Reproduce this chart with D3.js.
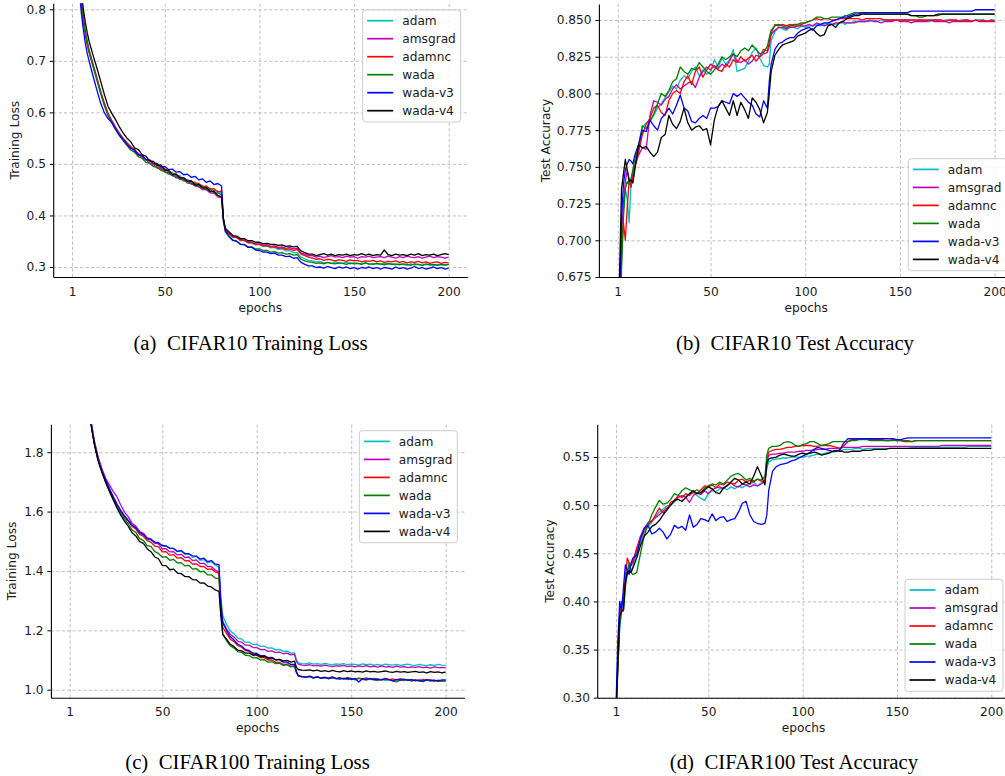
<!DOCTYPE html>
<html><head><meta charset="utf-8">
<script src="https://cdn.jsdelivr.net/npm/d3@7"></script>
<style>body{margin:0;background:#fff;overflow:hidden}</style>
</head><body>
<svg id="chart" width="1005" height="776"></svg>
<script>
// x grid (epochs) shared by every series
const EPOCHS = [].concat(d3.range(1,11), d3.range(12,81,2), [81,82], d3.range(84,121,2), [121,122], d3.range(124,201,2));
const SERIES_NAMES = ["adam","amsgrad","adamnc","wada","wada-v3","wada-v4"];
const SERIES_COLORS = ["#00bfbf","#bf00bf","#ff0000","#008000","#0000ff","#000000"];
const X_TICKS = [1,50,100,150,200];
const A_YTICKS = [0.3,0.4,0.5,0.6,0.7,0.8];
const B_YTICKS = [0.675,0.700,0.725,0.750,0.775,0.800,0.825,0.850];
const C_YTICKS = [1.0,1.2,1.4,1.6,1.8];
const D_YTICKS = [0.30,0.35,0.40,0.45,0.50,0.55];
const CAPTIONS = ["(a)\u00a0\u00a0CIFAR10 Training Loss","(b)\u00a0\u00a0CIFAR10 Test Accuracy","(c)\u00a0\u00a0CIFAR100 Training Loss","(d)\u00a0\u00a0CIFAR100 Test Accuracy"];

// (a) CIFAR10 training loss
const A_ADAM = [1.62,1.19,1.01,0.915,0.855,0.812,0.781,0.757,0.737,0.720,
0.694,0.668,0.640,0.617,0.597,0.583,0.571,0.560,0.550,0.541,
0.533,0.529,0.519,0.517,0.509,0.506,0.499,0.498,0.492,0.490,
0.484,0.484,0.476,0.477,0.470,0.470,0.464,0.465,0.459,0.458,
0.453,0.453,0.448,0.447,0.443,
0.392,0.372,
0.364,0.357,0.357,0.351,0.351,0.347,0.346,0.343,0.344,0.340,
0.341,0.337,0.338,0.334,0.335,0.331,0.332,0.328,0.328,
0.323,0.319,
0.316,0.313,0.312,0.310,0.311,0.308,0.309,0.307,0.310,0.308,
0.307,0.309,0.306,0.308,0.307,0.306,0.308,0.305,0.307,0.306,
0.305,0.307,0.305,0.306,0.304,0.306,0.305,0.303,0.306,0.304,
0.305,0.303,0.305,0.304,0.303,0.305,0.304,0.303,0.305];
const A_AMSGRAD = [1.63,1.20,1.02,0.920,0.860,0.815,0.783,0.758,0.738,0.721,
0.695,0.669,0.642,0.619,0.598,0.584,0.571,0.559,0.549,0.540,
0.534,0.524,0.521,0.512,0.509,0.501,0.499,0.492,0.491,0.484,
0.483,0.477,0.476,0.470,0.469,0.463,0.462,0.457,0.456,0.450,
0.450,0.444,0.443,0.436,0.434,
0.392,0.373,
0.366,0.359,0.358,0.353,0.352,0.349,0.348,0.345,0.345,0.342,
0.343,0.340,0.341,0.338,0.339,0.336,0.338,0.335,0.336,
0.331,0.327,
0.325,0.322,0.322,0.319,0.321,0.318,0.320,0.322,0.319,0.320,
0.318,0.321,0.319,0.320,0.317,0.320,0.319,0.321,0.318,0.319,
0.320,0.318,0.321,0.319,0.317,0.320,0.318,0.321,0.319,0.318,
0.320,0.317,0.319,0.321,0.318,0.320,0.319,0.317,0.319];
const A_ADAMNC = [1.61,1.19,1.01,0.913,0.852,0.810,0.779,0.755,0.735,0.718,
0.692,0.667,0.641,0.616,0.596,0.583,0.570,0.558,0.549,0.541,
0.532,0.528,0.519,0.516,0.508,0.506,0.499,0.498,0.490,0.490,
0.486,0.480,0.480,0.473,0.473,0.467,0.467,0.462,0.462,0.456,
0.457,0.451,0.452,0.446,0.447,
0.393,0.373,
0.365,0.358,0.357,0.352,0.352,0.347,0.348,0.344,0.344,0.341,
0.341,0.339,0.339,0.336,0.337,0.334,0.335,0.332,0.334,
0.329,0.325,
0.322,0.319,0.317,0.315,0.316,0.313,0.315,0.314,0.312,0.314,
0.313,0.311,0.314,0.312,0.313,0.310,0.312,0.311,0.313,0.310,
0.312,0.309,0.311,0.310,0.312,0.309,0.311,0.308,0.310,0.309,
0.311,0.308,0.310,0.307,0.309,0.310,0.307,0.309,0.308];
const A_WADA = [1.60,1.18,1.00,0.908,0.848,0.806,0.776,0.752,0.732,0.716,
0.690,0.664,0.638,0.614,0.594,0.580,0.567,0.555,0.545,0.536,
0.527,0.523,0.514,0.511,0.503,0.501,0.495,0.494,0.487,0.486,
0.480,0.479,0.473,0.473,0.467,0.467,0.461,0.461,0.455,0.456,
0.450,0.450,0.444,0.444,0.440,
0.388,0.368,
0.358,0.351,0.350,0.344,0.344,0.339,0.339,0.335,0.335,0.332,
0.332,0.329,0.330,0.327,0.328,0.325,0.326,0.323,0.324,
0.319,0.315,
0.312,0.310,0.309,0.307,0.308,0.306,0.309,0.307,0.306,0.308,
0.307,0.305,0.308,0.306,0.307,0.305,0.308,0.306,0.305,0.307,
0.306,0.304,0.307,0.305,0.306,0.304,0.306,0.305,0.303,0.306,
0.305,0.303,0.306,0.304,0.305,0.303,0.305,0.304,0.305];
const A_WADAV3 = [1.58,1.15,0.980,0.890,0.830,0.790,0.760,0.735,0.715,0.700,
0.672,0.645,0.619,0.600,0.588,0.580,0.567,0.556,0.547,0.538,
0.530,0.527,0.517,0.516,0.508,0.508,0.501,0.501,0.494,0.495,
0.489,0.490,0.484,0.485,0.479,0.480,0.474,0.476,0.469,0.471,
0.464,0.467,0.460,0.462,0.457,
0.394,0.370,
0.360,0.352,0.350,0.344,0.343,0.338,0.338,0.333,0.332,0.329,
0.329,0.326,0.327,0.323,0.323,0.320,0.321,0.317,0.318,
0.313,0.309,
0.305,0.302,0.302,0.299,0.300,0.298,0.301,0.299,0.297,0.300,
0.298,0.300,0.297,0.299,0.296,0.299,0.298,0.300,0.297,0.299,
0.296,0.299,0.298,0.296,0.300,0.297,0.299,0.296,0.298,0.301,
0.297,0.299,0.296,0.298,0.300,0.297,0.299,0.296,0.298];
const A_WADAV4 = [1.66,1.23,1.04,0.940,0.875,0.830,0.800,0.775,0.755,0.738,
0.712,0.688,0.662,0.636,0.612,0.598,0.586,0.572,0.560,0.550,
0.543,0.531,0.528,0.518,0.515,0.506,0.505,0.497,0.498,0.488,
0.488,0.479,0.480,0.473,0.473,0.466,0.467,0.459,0.460,0.453,
0.454,0.446,0.447,0.439,0.436,
0.392,0.375,
0.368,0.361,0.360,0.355,0.355,0.351,0.351,0.348,0.348,0.345,
0.346,0.344,0.344,0.342,0.343,0.340,0.341,0.339,0.340,
0.335,0.331,
0.328,0.325,0.325,0.322,0.324,0.326,0.323,0.325,0.322,0.324,
0.323,0.325,0.322,0.324,0.323,0.326,0.323,0.325,0.322,0.324,
0.323,0.333,0.324,0.322,0.325,0.323,0.324,0.322,0.325,0.323,
0.326,0.322,0.324,0.323,0.325,0.322,0.324,0.326,0.324];

// (b) CIFAR10 test accuracy
const B_ADAM = [0.560,0.640,0.690,0.722,0.735,0.728,0.712,0.738,0.748,0.752,
0.760,0.777,0.780,0.781,0.785,0.790,0.793,0.797,0.801,0.805,
0.803,0.809,0.812,0.810,0.815,0.818,0.812,0.816,0.813,0.815,
0.823,0.818,0.824,0.820,0.823,0.830,0.815,0.816,0.817,0.822,
0.828,0.831,0.824,0.819,0.818,
0.820,0.836,
0.842,0.845,0.844,0.843,0.846,0.845,0.844,0.846,0.845,0.846,
0.846,0.847,0.846,0.847,0.848,0.847,0.847,0.848,0.848,
0.847,0.848,
0.848,0.849,0.849,0.849,0.849,0.849,0.850,0.849,0.850,0.850,
0.850,0.850,0.850,0.850,0.850,0.850,0.850,0.849,0.850,0.850,
0.849,0.849,0.850,0.850,0.849,0.850,0.850,0.850,0.849,0.850,
0.850,0.850,0.849,0.850,0.850,0.850,0.849,0.850,0.850];
const B_AMSGRAD = [0.570,0.650,0.700,0.725,0.740,0.748,0.742,0.736,0.745,0.750,
0.758,0.763,0.762,0.785,0.795,0.794,0.792,0.796,0.798,0.803,
0.806,0.803,0.805,0.807,0.808,0.804,0.811,0.815,0.818,0.816,
0.819,0.817,0.820,0.818,0.822,0.827,0.822,0.821,0.823,0.820,
0.822,0.826,0.825,0.827,0.828,
0.832,0.840,
0.843,0.845,0.845,0.844,0.845,0.845,0.846,0.846,0.846,0.847,
0.846,0.848,0.847,0.846,0.847,0.847,0.848,0.848,0.849,
0.848,0.848,
0.848,0.848,0.849,0.849,0.849,0.850,0.849,0.849,0.848,0.849,
0.849,0.849,0.850,0.849,0.849,0.849,0.848,0.849,0.849,0.849,
0.849,0.850,0.849,0.849,0.849,0.849,0.848,0.849,0.849,0.849,
0.849,0.849,0.849,0.850,0.849,0.849,0.849,0.849,0.849];
const B_ADAMNC = [0.565,0.645,0.690,0.712,0.700,0.722,0.740,0.737,0.742,0.750,
0.760,0.772,0.779,0.783,0.790,0.792,0.787,0.785,0.795,0.800,
0.802,0.800,0.808,0.812,0.806,0.815,0.818,0.811,0.816,0.820,
0.818,0.816,0.815,0.820,0.818,0.823,0.821,0.825,0.822,0.824,
0.826,0.822,0.825,0.830,0.829,
0.835,0.841,
0.847,0.846,0.847,0.846,0.847,0.846,0.846,0.847,0.848,0.849,
0.850,0.851,0.850,0.851,0.851,0.850,0.850,0.851,0.851,
0.851,0.851,
0.851,0.851,0.851,0.850,0.851,0.851,0.851,0.851,0.851,0.850,
0.850,0.850,0.850,0.850,0.850,0.850,0.850,0.850,0.850,0.850,
0.850,0.850,0.850,0.850,0.850,0.849,0.850,0.850,0.850,0.849,
0.850,0.850,0.849,0.850,0.849,0.850,0.849,0.850,0.849];
const B_WADA = [0.555,0.630,0.680,0.715,0.735,0.740,0.738,0.742,0.748,0.755,
0.765,0.778,0.776,0.781,0.786,0.793,0.800,0.798,0.802,0.808,
0.810,0.818,0.815,0.813,0.817,0.816,0.821,0.818,0.815,0.813,
0.816,0.820,0.825,0.823,0.825,0.827,0.825,0.829,0.831,0.829,
0.833,0.830,0.827,0.828,0.832,
0.838,0.843,
0.846,0.847,0.846,0.845,0.846,0.847,0.847,0.848,0.848,0.849,
0.850,0.852,0.852,0.851,0.851,0.852,0.852,0.852,0.852,
0.853,0.853,
0.854,0.855,0.855,0.855,0.854,0.854,0.854,0.854,0.854,0.854,
0.854,0.854,0.854,0.854,0.854,0.854,0.853,0.853,0.852,0.852,
0.853,0.853,0.853,0.853,0.854,0.854,0.854,0.854,0.854,0.854,
0.854,0.854,0.854,0.854,0.854,0.854,0.854,0.854,0.854];
const B_WADAV3 = [0.560,0.660,0.715,0.738,0.748,0.752,0.755,0.754,0.752,0.758,
0.765,0.775,0.774,0.782,0.778,0.775,0.783,0.786,0.790,0.786,
0.792,0.799,0.790,0.788,0.781,0.780,0.783,0.785,0.783,0.790,
0.790,0.791,0.795,0.794,0.793,0.800,0.798,0.800,0.797,0.794,
0.792,0.786,0.784,0.795,0.790,
0.808,0.820,
0.830,0.834,0.835,0.837,0.838,0.838,0.841,0.843,0.844,0.845,
0.843,0.846,0.847,0.848,0.848,0.849,0.850,0.851,0.852,
0.852,0.852,
0.853,0.854,0.854,0.855,0.855,0.855,0.855,0.855,0.855,0.855,
0.855,0.855,0.855,0.855,0.855,0.855,0.856,0.856,0.856,0.856,
0.856,0.856,0.856,0.856,0.856,0.856,0.856,0.856,0.856,0.856,
0.856,0.856,0.856,0.857,0.857,0.857,0.857,0.857,0.857];
const B_WADAV4 = [0.580,0.680,0.735,0.745,0.755,0.748,0.740,0.741,0.739,0.748,
0.765,0.763,0.764,0.760,0.757,0.760,0.770,0.772,0.785,0.779,
0.776,0.781,0.790,0.780,0.775,0.777,0.778,0.775,0.776,0.765,
0.782,0.791,0.795,0.790,0.785,0.795,0.785,0.794,0.789,0.783,
0.797,0.794,0.789,0.780,0.787,
0.800,0.815,
0.826,0.830,0.833,0.834,0.835,0.836,0.839,0.840,0.841,0.843,
0.844,0.841,0.839,0.840,0.846,0.847,0.845,0.848,0.849,
0.850,0.851,
0.852,0.853,0.853,0.854,0.854,0.854,0.854,0.854,0.854,0.854,
0.854,0.854,0.854,0.854,0.854,0.854,0.853,0.853,0.853,0.853,
0.853,0.853,0.853,0.854,0.854,0.854,0.854,0.854,0.854,0.854,
0.854,0.854,0.854,0.854,0.854,0.854,0.854,0.854,0.854];

// (c) CIFAR100 training loss
const C_ADAM = [3.90,3.22,2.86,2.62,2.45,2.32,2.21,2.12,2.05,1.99,
1.915,1.838,1.782,1.741,1.708,1.676,1.652,1.626,1.604,1.586,
1.569,1.553,1.543,1.527,1.520,1.507,1.504,1.494,1.493,1.483,
1.485,1.475,1.477,1.465,1.467,1.455,1.458,1.446,1.449,1.436,
1.438,1.427,1.431,1.420,1.412,
1.310,1.250,
1.220,1.198,1.188,1.174,1.170,1.160,1.160,1.152,1.153,1.146,
1.147,1.140,1.141,1.134,1.136,1.129,1.130,1.123,1.124,
1.100,1.090,
1.088,1.087,1.090,1.086,1.088,1.085,1.089,1.086,1.084,1.087,
1.085,1.088,1.084,1.086,1.085,1.083,1.087,1.084,1.086,1.083,
1.085,1.082,1.086,1.084,1.083,1.085,1.082,1.084,1.086,1.083,
1.082,1.085,1.083,1.081,1.084,1.082,1.085,1.083,1.082];
const C_AMSGRAD = [3.92,3.23,2.87,2.62,2.45,2.32,2.21,2.12,2.05,1.99,
1.918,1.840,1.785,1.745,1.712,1.690,1.668,1.650,1.622,1.598,
1.582,1.560,1.551,1.533,1.527,1.511,1.508,1.494,1.491,1.474,
1.475,1.464,1.465,1.454,1.456,1.445,1.447,1.435,1.437,1.425,
1.426,1.415,1.415,1.403,1.396,
1.290,1.230,
1.205,1.186,1.177,1.163,1.160,1.150,1.150,1.142,1.142,1.135,
1.136,1.129,1.131,1.125,1.127,1.121,1.123,1.117,1.119,
1.095,1.086,
1.083,1.082,1.084,1.080,1.082,1.079,1.083,1.080,1.078,1.081,
1.079,1.082,1.078,1.080,1.077,1.080,1.078,1.081,1.077,1.079,
1.076,1.080,1.077,1.078,1.075,1.079,1.076,1.078,1.074,1.077,
1.075,1.078,1.074,1.076,1.073,1.077,1.074,1.075,1.074];
const C_ADAMNC = [3.90,3.21,2.85,2.61,2.44,2.31,2.20,2.11,2.04,1.98,
1.910,1.835,1.779,1.738,1.705,1.675,1.650,1.624,1.602,1.583,
1.568,1.550,1.541,1.523,1.517,1.502,1.497,1.484,1.481,1.464,
1.465,1.453,1.455,1.443,1.445,1.434,1.435,1.423,1.424,1.415,
1.415,1.405,1.407,1.397,1.393,
1.275,1.210,
1.190,1.170,1.162,1.148,1.143,1.132,1.129,1.119,1.116,1.108,
1.108,1.100,1.100,1.092,1.092,1.085,1.086,1.079,1.080,
1.060,1.048,
1.045,1.043,1.046,1.041,1.044,1.040,1.042,1.039,1.043,1.037,
1.040,1.036,1.041,1.038,1.035,1.039,1.036,1.040,1.034,1.038,
1.035,1.033,1.038,1.034,1.036,1.032,1.037,1.033,1.035,1.031,
1.034,1.029,1.035,1.031,1.033,1.028,1.032,1.030,1.029];
const C_WADA = [3.89,3.20,2.84,2.60,2.43,2.30,2.19,2.10,2.03,1.97,
1.905,1.830,1.775,1.735,1.702,1.672,1.645,1.618,1.595,1.576,
1.559,1.538,1.530,1.509,1.503,1.485,1.483,1.465,1.459,1.446,
1.448,1.436,1.439,1.427,1.428,1.417,1.419,1.406,1.408,1.397,
1.399,1.387,1.387,1.376,1.374,
1.255,1.190,
1.165,1.148,1.140,1.128,1.126,1.116,1.115,1.107,1.108,1.100,
1.101,1.093,1.094,1.088,1.089,1.082,1.084,1.077,1.079,
1.057,1.046,
1.043,1.041,1.044,1.039,1.042,1.038,1.041,1.036,1.040,1.037,
1.035,1.039,1.034,1.037,1.033,1.038,1.035,1.032,1.036,1.033,
1.031,1.035,1.032,1.034,1.030,1.026,1.033,1.031,1.034,1.029,
1.032,1.030,1.027,1.033,1.029,1.031,1.028,1.030,1.029];
const C_WADAV3 = [3.88,3.19,2.84,2.60,2.43,2.30,2.19,2.10,2.03,1.975,
1.905,1.830,1.775,1.738,1.706,1.678,1.650,1.625,1.603,1.585,
1.570,1.554,1.546,1.530,1.523,1.509,1.506,1.497,1.495,1.486,
1.484,1.477,1.475,1.466,1.469,1.459,1.458,1.451,1.450,1.440,
1.443,1.431,1.435,1.423,1.421,
1.290,1.225,
1.200,1.178,1.167,1.153,1.147,1.135,1.132,1.123,1.122,1.115,
1.115,1.108,1.109,1.101,1.101,1.093,1.093,1.085,1.085,
1.060,1.046,
1.044,1.042,1.045,1.040,1.043,1.039,1.041,1.038,1.042,1.037,
1.040,1.036,1.039,1.035,1.038,1.026,1.037,1.035,1.038,1.034,
1.036,1.033,1.037,1.034,1.030,1.035,1.032,1.036,1.031,1.034,
1.030,1.033,1.029,1.034,1.031,1.032,1.029,1.033,1.033];
const C_WADAV4 = [3.90,3.20,2.84,2.60,2.43,2.30,2.19,2.10,2.03,1.975,
1.905,1.828,1.772,1.732,1.698,1.668,1.640,1.612,1.588,1.568,
1.550,1.529,1.518,1.499,1.493,1.475,1.465,1.447,1.441,1.419,
1.418,1.404,1.406,1.393,1.391,1.381,1.381,1.371,1.370,1.359,
1.360,1.349,1.346,1.336,1.331,
1.250,1.185,
1.170,1.153,1.145,1.133,1.131,1.123,1.123,1.116,1.118,1.111,
1.112,1.105,1.107,1.100,1.102,1.097,1.099,1.093,1.096,
1.075,1.068,
1.066,1.065,1.067,1.063,1.066,1.062,1.064,1.061,1.065,1.062,
1.060,1.064,1.061,1.063,1.060,1.062,1.059,1.063,1.060,1.062,
1.059,1.061,1.063,1.060,1.058,1.062,1.059,1.061,1.058,1.060,
1.062,1.058,1.060,1.057,1.061,1.058,1.060,1.057,1.059];

// (d) CIFAR100 test accuracy
const D_ADAM = [0.275,0.330,0.375,0.390,0.405,0.418,0.428,0.440,0.432,0.436,
0.450,0.462,0.472,0.478,0.482,0.488,0.493,0.496,0.499,0.500,
0.503,0.508,0.510,0.509,0.512,0.513,0.510,0.507,0.505,0.512,
0.515,0.514,0.517,0.518,0.516,0.519,0.517,0.520,0.518,0.521,
0.522,0.524,0.520,0.523,0.525,
0.538,0.545,
0.547,0.548,0.548,0.549,0.549,0.550,0.550,0.550,0.550,0.551,
0.551,0.552,0.553,0.553,0.554,0.555,0.555,0.556,0.557,
0.557,0.558,
0.558,0.558,0.559,0.559,0.558,0.559,0.559,0.559,0.559,0.559,
0.559,0.559,0.559,0.559,0.559,0.559,0.559,0.560,0.560,0.560,
0.560,0.560,0.560,0.560,0.560,0.560,0.560,0.560,0.560,0.560,
0.560,0.560,0.561,0.561,0.561,0.561,0.561,0.561,0.561];
const D_AMSGRAD = [0.280,0.340,0.385,0.400,0.398,0.420,0.432,0.435,0.438,0.440,
0.455,0.468,0.476,0.482,0.484,0.487,0.490,0.494,0.497,0.500,
0.505,0.508,0.510,0.508,0.503,0.510,0.513,0.511,0.515,0.512,
0.516,0.518,0.519,0.517,0.521,0.523,0.520,0.519,0.522,0.521,
0.519,0.521,0.520,0.522,0.525,
0.545,0.552,
0.553,0.553,0.554,0.554,0.555,0.555,0.555,0.556,0.556,0.557,
0.557,0.557,0.558,0.558,0.558,0.559,0.559,0.559,0.559,
0.560,0.560,
0.560,0.560,0.560,0.560,0.561,0.561,0.561,0.561,0.561,0.561,
0.561,0.561,0.561,0.561,0.561,0.561,0.561,0.561,0.561,0.561,
0.561,0.561,0.561,0.561,0.561,0.562,0.562,0.562,0.562,0.562,
0.562,0.562,0.562,0.562,0.562,0.562,0.562,0.562,0.562];
const D_ADAMNC = [0.280,0.335,0.380,0.395,0.405,0.425,0.445,0.440,0.437,0.442,
0.455,0.465,0.474,0.480,0.483,0.490,0.497,0.492,0.495,0.503,
0.505,0.510,0.508,0.512,0.510,0.514,0.512,0.516,0.520,0.519,
0.521,0.518,0.522,0.521,0.524,0.523,0.522,0.526,0.527,0.524,
0.526,0.524,0.527,0.525,0.524,
0.548,0.555,
0.557,0.558,0.558,0.559,0.560,0.560,0.561,0.561,0.562,0.562,
0.562,0.561,0.561,0.562,0.562,0.562,0.561,0.560,0.559,
0.560,0.562,
0.566,0.568,0.568,0.569,0.569,0.569,0.568,0.568,0.568,0.568,
0.567,0.567,0.568,0.567,0.567,0.567,0.567,0.566,0.567,0.567,
0.567,0.567,0.567,0.567,0.567,0.567,0.567,0.567,0.567,0.567,
0.567,0.567,0.567,0.567,0.567,0.567,0.567,0.567,0.567];
const D_WADA = [0.280,0.330,0.375,0.390,0.390,0.415,0.430,0.440,0.430,0.428,
0.430,0.450,0.468,0.480,0.490,0.498,0.505,0.501,0.502,0.506,
0.512,0.510,0.515,0.518,0.516,0.514,0.516,0.513,0.518,0.520,
0.522,0.521,0.524,0.522,0.526,0.530,0.532,0.533,0.530,0.526,
0.528,0.525,0.527,0.526,0.530,
0.552,0.559,
0.561,0.561,0.562,0.565,0.566,0.565,0.562,0.561,0.563,0.564,
0.566,0.566,0.564,0.562,0.563,0.564,0.566,0.566,0.566,
0.566,0.566,
0.566,0.567,0.567,0.568,0.568,0.568,0.567,0.567,0.567,0.567,
0.567,0.567,0.567,0.567,0.567,0.566,0.566,0.566,0.567,0.567,
0.567,0.567,0.567,0.567,0.567,0.567,0.567,0.567,0.567,0.567,
0.567,0.567,0.567,0.567,0.567,0.567,0.567,0.567,0.567];
const D_WADAV3 = [0.290,0.360,0.400,0.390,0.415,0.438,0.432,0.428,0.440,0.445,
0.448,0.465,0.476,0.479,0.470,0.472,0.476,0.472,0.465,0.470,
0.479,0.476,0.478,0.474,0.490,0.477,0.480,0.486,0.485,0.483,
0.491,0.484,0.487,0.488,0.483,0.485,0.486,0.493,0.502,0.504,
0.490,0.483,0.481,0.480,0.481,
0.490,0.515,
0.535,0.540,0.542,0.543,0.544,0.546,0.547,0.549,0.551,0.553,
0.555,0.558,0.560,0.559,0.558,0.557,0.556,0.556,0.558,
0.562,0.565,
0.569,0.569,0.569,0.569,0.569,0.569,0.569,0.569,0.569,0.569,
0.569,0.569,0.569,0.568,0.568,0.569,0.570,0.570,0.570,0.570,
0.570,0.570,0.570,0.570,0.570,0.570,0.570,0.570,0.570,0.570,
0.570,0.570,0.570,0.570,0.570,0.570,0.570,0.570,0.570];
const D_WADAV4 = [0.280,0.335,0.385,0.390,0.392,0.420,0.430,0.432,0.430,0.435,
0.445,0.458,0.468,0.472,0.478,0.480,0.484,0.490,0.495,0.500,
0.505,0.506,0.504,0.508,0.512,0.515,0.512,0.513,0.516,0.519,
0.517,0.513,0.512,0.518,0.520,0.524,0.528,0.526,0.522,0.524,
0.522,0.530,0.540,0.531,0.521,
0.543,0.548,
0.549,0.550,0.552,0.553,0.552,0.551,0.551,0.553,0.554,0.553,
0.554,0.555,0.554,0.552,0.553,0.554,0.556,0.557,0.556,
0.556,0.555,
0.555,0.556,0.556,0.556,0.557,0.557,0.557,0.558,0.558,0.558,
0.558,0.559,0.559,0.559,0.559,0.559,0.559,0.559,0.559,0.559,
0.559,0.559,0.559,0.559,0.559,0.559,0.559,0.559,0.559,0.559,
0.559,0.559,0.559,0.559,0.559,0.559,0.559,0.559,0.559];

// ---- layout (pixels) ----
const PANELS = [
  {series:[A_ADAM,A_AMSGRAD,A_ADAMNC,A_WADA,A_WADAV3,A_WADAV4], box:[53.2,3.3,467.5,277], yDom:[0.2806,0.8116], yTicks:A_YTICKS, fmt:".1f", ylabel:"Training Loss", ylabelX:15, caption:CAPTIONS[0], capX:250.5, capY:350, legend:[362.7,10]},
  {series:[B_ADAM,B_AMSGRAD,B_ADAMNC,B_WADA,B_WADAV3,B_WADAV4], box:[598.9,4,1013.5,277], yDom:[0.675,0.8609], yTicks:B_YTICKS, fmt:".3f", ylabel:"Test Accuracy", ylabelX:545.7, caption:CAPTIONS[1], capX:795, capY:350, legend:[908.3,158.7]},
  {series:[C_ADAM,C_AMSGRAD,C_ADAMNC,C_WADA,C_WADAV3,C_WADAV4], box:[50.9,424.3,464.5,697.7], yDom:[0.973,1.894], yTicks:C_YTICKS, fmt:".1f", ylabel:"Training Loss", ylabelX:11.7, caption:CAPTIONS[2], capX:247.5, capY:769.3, legend:[359.3,430.7]},
  {series:[D_ADAM,D_AMSGRAD,D_ADAMNC,D_WADA,D_WADAV3,D_WADAV4], box:[597.2,424.3,1010,697.7], yDom:[0.30,0.584], yTicks:D_YTICKS, fmt:".2f", ylabel:"Test Accuracy", ylabelX:550, caption:CAPTIONS[3], capX:794, capY:769.3, legend:[905,579.3]}
];

const FONT = "'DejaVu Sans', sans-serif";
const FS = 12.2;
const svg = d3.select("#chart");
svg.append("rect").attr("width",1005).attr("height",776).attr("fill","#fff");

PANELS.forEach((p, pi) => {
  const [l,t,r,b] = p.box;
  const x = d3.scaleLinear().domain([-8.95, 209.95]).range([l, r]);
  const y = d3.scaleLinear().domain(p.yDom).range([b, t]);
  const g = svg.append("g");

  // grid
  const gy = g.append("g").attr("transform", `translate(${l},0)`)
    .call(d3.axisLeft(y).tickValues(p.yTicks).tickSize(-(r-l)).tickFormat(""));
  gy.select(".domain").remove();
  gy.selectAll("line").attr("stroke","#b0b0b0").attr("stroke-width",0.8).attr("stroke-dasharray","3.2,2.2");
  const gx = g.append("g").attr("transform", `translate(0,${b})`)
    .call(d3.axisBottom(x).tickValues(X_TICKS).tickSize(-(b-t)).tickFormat(""));
  gx.select(".domain").remove();
  gx.selectAll("line").attr("stroke","#b0b0b0").attr("stroke-width",0.8).attr("stroke-dasharray","3.2,2.2");

  // clip
  const cid = "clip" + pi;
  svg.append("clipPath").attr("id", cid).append("rect")
    .attr("x", l).attr("y", t).attr("width", r-l).attr("height", b-t);

  const line = d3.line().x(d => x(d[0])).y(d => y(d[1]));
  const lg = g.append("g").attr("clip-path", `url(#${cid})`);
  p.series.forEach((vals, si) => {
    const pts = vals.map((v,i) => [EPOCHS[i], v]).filter(d => d[0] !== undefined);
    lg.append("path").datum(pts).attr("d", line)
      .attr("fill","none").attr("stroke", SERIES_COLORS[si])
      .attr("stroke-width",1.3).attr("stroke-linejoin","round");
  });

  // axes
  const ay = g.append("g").attr("transform", `translate(${l},0)`)
    .call(d3.axisLeft(y).tickValues(p.yTicks).tickFormat(d3.format(p.fmt)).tickSize(3.5).tickSizeOuter(0).tickPadding(3.8));
  ay.attr("font-family", FONT).attr("font-size", FS);
  ay.select(".domain").attr("stroke","#000").attr("stroke-width",1.1);
  ay.selectAll(".tick line").attr("stroke","#000").attr("stroke-width",1);
  ay.selectAll("text").attr("fill","#1a1a1a");
  const ax = g.append("g").attr("transform", `translate(0,${b})`)
    .call(d3.axisBottom(x).tickValues(X_TICKS).tickFormat(d3.format("d")).tickSize(0).tickSizeOuter(0).tickPadding(10));
  ax.attr("font-family", FONT).attr("font-size", FS);
  ax.select(".domain").attr("stroke","#000").attr("stroke-width",1.1);
  ax.selectAll("text").attr("fill","#1a1a1a");

  // axis labels
  g.append("text").attr("x", (l+r)/2).attr("y", b+34.5).attr("text-anchor","middle")
    .attr("font-family", FONT).attr("font-size", FS).attr("fill","#1a1a1a").text("epochs");
  g.append("text").attr("transform", `translate(${p.ylabelX},${(t+b)/2}) rotate(-90)`)
    .attr("dy","0.35em").attr("text-anchor","middle")
    .attr("font-family", FONT).attr("font-size", FS).attr("fill","#1a1a1a").text(p.ylabel);

  // legend
  const [lx, ly] = p.legend;
  const leg = g.append("g").attr("transform", `translate(${lx},${ly})`);
  leg.append("rect").attr("width",98).attr("height",112).attr("rx",3)
    .attr("fill","#fff").attr("fill-opacity",0.85).attr("stroke","#cccccc").attr("stroke-width",1);
  SERIES_NAMES.forEach((name, si) => {
    const cy = 10.7 + 18*si;
    leg.append("line").attr("x1",4.5).attr("x2",30.5).attr("y1",cy).attr("y2",cy)
      .attr("stroke", SERIES_COLORS[si]).attr("stroke-width",1.7);
    leg.append("text").attr("x",39.5).attr("y",cy).attr("dy","0.36em")
      .attr("font-family", FONT).attr("font-size", FS).attr("fill","#1a1a1a").text(name);
  });

  // caption
  svg.append("text").attr("x", p.capX).attr("y", p.capY).attr("text-anchor","middle")
    .attr("font-family","'Liberation Serif','Times New Roman',serif").attr("font-size",20.8)
    .attr("fill","#000").text(p.caption);
});
</script>
</body></html>
